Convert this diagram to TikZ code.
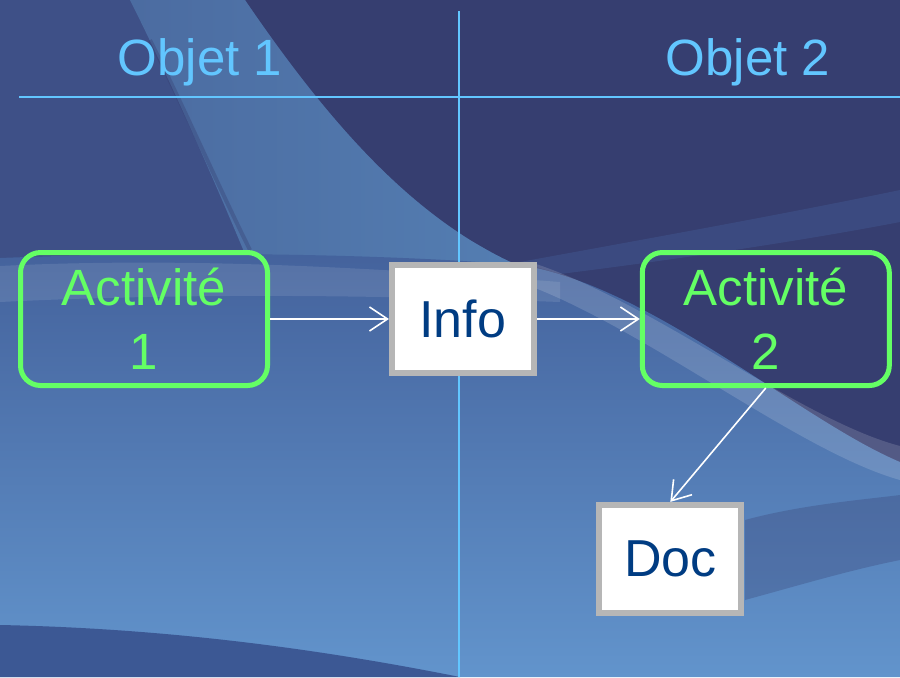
\documentclass[tikz,border=0pt]{standalone}
\usepackage{fontspec}
\setmainfont{Liberation Sans}
\usepackage{tikz}
\usetikzlibrary{positioning,arrows.meta}

\definecolor{bgnavy}{RGB}{54,62,112}
\definecolor{bgslate}{RGB}{62,80,135}
\definecolor{bgstreak}{RGB}{84,126,178}
\definecolor{bgmid}{RGB}{68,98,156}
\definecolor{bglight}{RGB}{98,148,204}
\definecolor{bgdeep}{RGB}{60,88,148}
\definecolor{headblue}{RGB}{98,198,255}
\definecolor{actgreen}{RGB}{100,255,100}
\definecolor{boxgray}{RGB}{182,182,182}
\definecolor{docblue}{RGB}{0,60,130}

\begin{document}
\begin{tikzpicture}[
x=0.5pt, y=-0.5pt,
node distance=1cm,
>={Straight Barb[length=9pt,width=12pt]},
title/.style={text=headblue, font=\fontsize{25.5}{30}\selectfont, anchor=base},
activ/.style={rectangle, rounded corners=10pt, draw=actgreen, line width=2.5pt, text=actgreen,
  minimum width=123.5pt, minimum height=66.5pt, align=center, font=\fontsize{25.5}{32}\selectfont},
docbox/.style={rectangle, draw=boxgray, fill=white, line width=3pt, text=docblue,
  minimum width=71pt, minimum height=54pt, font=\fontsize{26}{30}\selectfont},
flow/.style={->, draw=white, line width=0.8pt}
]
\useasboundingbox (0,0) rectangle (900,677);
%Background
\fill[bgnavy] (0,0) rectangle (900,677);
\fill[bgslate] (0,0) -- (245,0) .. controls (320,110) and (390,190) .. (470,240) .. controls (490,252) and (505,260) .. (520,266) -- (0,266) -- cycle;
\shade[left color=bgslate!40!bgstreak, right color=bgstreak] (130,0) -- (245,0) .. controls (320,110) and (390,190) .. (470,240) .. controls (490,252) and (505,260) .. (520,266) -- (250,266) .. controls (210,170) and (170,80) .. (130,0);
\draw[bgnavy, opacity=0.35, line width=2pt] (150,40) .. controls (190,120) and (220,190) .. (250,250);
\fill[bgslate, opacity=0.7] (520,262) .. controls (640,240) and (780,215) .. (900,190) -- (900,222) .. controls (780,245) and (640,264) .. (560,274) -- cycle;
\shade[top color=bgmid, bottom color=bglight] (0,258) .. controls (200,250) and (400,255) .. (520,265) .. controls (650,285) and (800,420) .. (900,462) -- (900,677) -- (0,677) -- cycle;
\fill[white, opacity=0.10] (0,266) .. controls (200,256) and (400,270) .. (560,282) -- (560,302) .. controls (400,296) and (200,292) .. (0,302) -- cycle;
\fill[white, opacity=0.15] (530,262) .. controls (650,300) and (800,420) .. (900,446) -- (900,480) .. controls (800,452) and (650,332) .. (530,286) -- cycle;
\fill[bgnavy, opacity=0.3] (745,520) .. controls (800,505) and (860,500) .. (900,495) -- (900,560) .. controls (850,570) and (800,585) .. (745,600) -- cycle;
\fill[bgdeep] (0,625) .. controls (150,628) and (300,645) .. (460,677) -- (0,677) -- cycle;
%Header
\draw[headblue, line width=1pt] (19,97) -- (900,97);
\draw[headblue, line width=1pt] (459,11) -- (459,677);
\node[title]     (t1)   at (200,75)                               {Objet 1};
\node[title]     (t2)   at (748,75)                               {Objet 2};
%Nodes
\node[activ]     (a1)   at (144,319)                              {Activité\\1};
\node[docbox]    (info) [right of=a1, xshift=131pt]               {Info};
\node[activ]     (a2)   [right of=info, xshift=123pt]             {Activité\\2};
\node[docbox]    (doc)  [below of=a2, yshift=-91.5pt, xshift=-47.75pt] {Doc};
%Lines
\draw[flow] (a1) -- (info);
\draw[flow] (info) -- (a2);
\draw[flow] (a2.south) -- (doc.north);
\end{tikzpicture}
\end{document}
